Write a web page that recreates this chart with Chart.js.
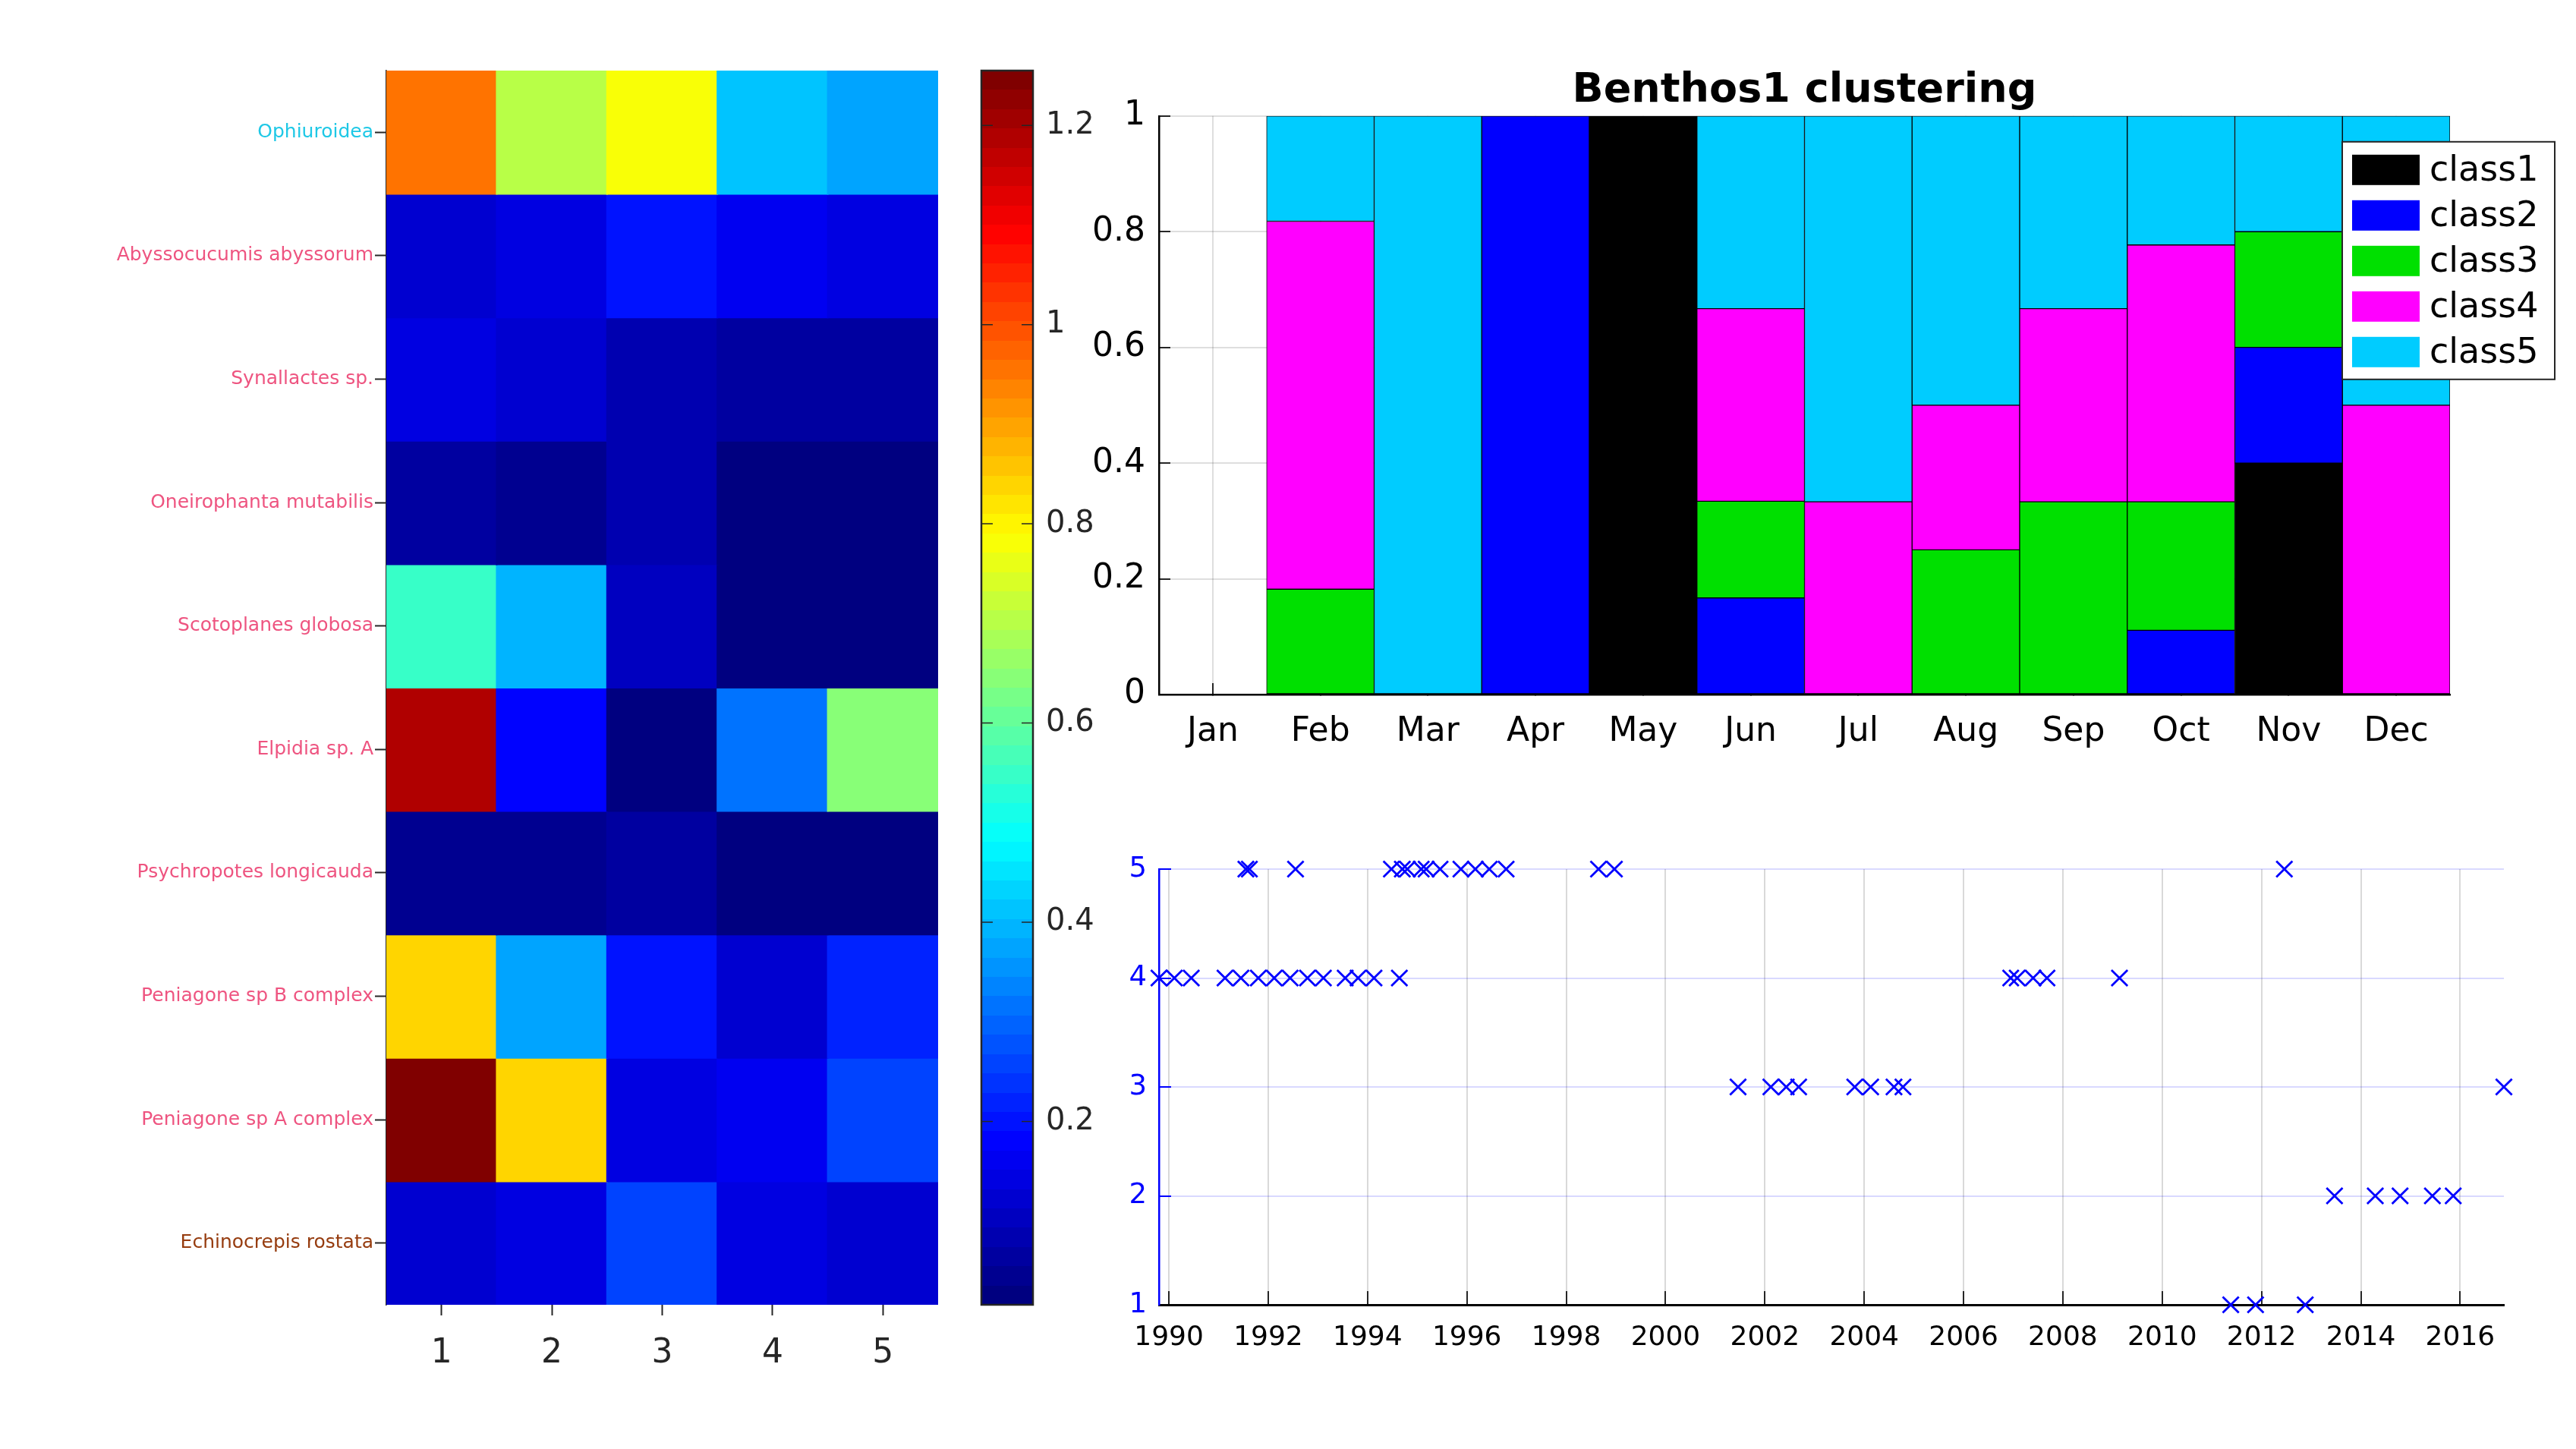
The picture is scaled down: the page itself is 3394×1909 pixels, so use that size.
<!DOCTYPE html>
<html>
<head>
<meta charset="utf-8">
<script src="https://cdn.jsdelivr.net/npm/chart.js@4/dist/chart.umd.min.js"></script>
<style>
  body { margin: 0; background: #fff; }
  #page { position: relative; width: 3394px; height: 1909px; background: #fff; overflow: hidden; }
  canvas { position: absolute; }
</style>
</head>
<body>
<div id="page">
  <canvas id="heat" width="1250" height="1860" style="left:0;top:0"></canvas>
  <canvas id="cbar" width="230" height="1860" style="left:1250px;top:0"></canvas>
  <canvas id="months" width="1994" height="1040" style="left:1400px;top:0"></canvas>
  <canvas id="series" width="1994" height="859" style="left:1400px;top:1050px"></canvas>
</div>
<script>
// heatmap: species x cluster
var species = ['Ophiuroidea', 'Abyssocucumis abyssorum', 'Synallactes sp.', 'Oneirophanta mutabilis',
  'Scotoplanes globosa', 'Elpidia sp. A', 'Psychropotes longicauda', 'Peniagone sp B complex',
  'Peniagone sp A complex', 'Echinocrepis rostata'];
var clusters = ['1', '2', '3', '4', '5'];
var heatValues = [
  [0.961, 0.700, 0.790, 0.411, 0.378],
  [0.114, 0.133, 0.205, 0.152, 0.140],
  [0.133, 0.124, 0.084, 0.074, 0.069],
  [0.066, 0.054, 0.093, 0.026, 0.026],
  [0.558, 0.392, 0.103, 0.020, 0.031],
  [1.191, 0.171, 0.016, 0.310, 0.654],
  [0.036, 0.036, 0.074, 0.018, 0.026],
  [0.839, 0.365, 0.207, 0.124, 0.219],
  [1.255, 0.839, 0.140, 0.161, 0.258],
  [0.124, 0.140, 0.264, 0.140, 0.132]
];
var labelColors = ['rgb(30,200,230)', 'rgb(238,84,128)', 'rgb(238,84,128)', 'rgb(238,84,128)',
  'rgb(238,84,128)', 'rgb(238,84,128)', 'rgb(238,84,128)', 'rgb(238,84,128)',
  'rgb(238,84,128)', 'rgb(150,60,15)'];
var cbTicks = [0.2, 0.4, 0.6, 0.8, 1, 1.2];

// monthly class proportions
var months = ['Jan', 'Feb', 'Mar', 'Apr', 'May', 'Jun', 'Jul', 'Aug', 'Sep', 'Oct', 'Nov', 'Dec'];
var class1 = [0, 0, 0, 0, 1, 0, 0, 0, 0, 0, 0.4, 0];
var class2 = [0, 0, 0, 1, 0, 0.167, 0, 0, 0, 0.111, 0.2, 0];
var class3 = [0, 0.182, 0, 0, 0, 0.167, 0, 0.25, 0.333, 0.222, 0.2, 0];
var class4 = [0, 0.636, 0, 0, 0, 0.333, 0.333, 0.25, 0.334, 0.444, 0, 0.5];
var class5 = [0, 0.182, 1, 0, 0, 0.333, 0.667, 0.5, 0.333, 0.223, 0.2, 0.5];
var classColors = ['#000000', '#0000ff', '#00e000', '#ff00ff', '#00ccff'];

// class of each sample through time
var sampleYear = [1989.80, 1990.11, 1990.45, 1991.13, 1991.45, 1991.55, 1991.62, 1991.80, 1992.12, 1992.44,
  1992.55, 1992.79, 1993.11, 1993.55, 1993.81, 1994.13, 1994.48, 1994.64, 1994.70, 1994.80,
  1995.08, 1995.18, 1995.46, 1995.88, 1996.17, 1996.45, 1996.79, 1998.65, 1998.97, 2001.46,
  2002.12, 2002.43, 2002.68, 2003.81, 2004.13, 2004.60, 2004.78, 2006.95, 2007.08, 2007.40,
  2007.68, 2009.14, 2011.38, 2011.88, 2012.46, 2012.88, 2013.47, 2014.29, 2014.79, 2015.44,
  2015.86, 2016.88];
var sampleClass = [4, 4, 4, 4, 4, 5, 5, 4, 4, 4,
  5, 4, 4, 4, 4, 4, 5, 4, 5, 5,
  5, 5, 5, 5, 5, 5, 5, 5, 5, 3,
  3, 3, 3, 3, 3, 3, 3, 4, 4, 4,
  4, 4, 1, 1, 5, 1, 2, 2, 2, 2,
  2, 3];
var yearTicks = [1990, 1992, 1994, 1996, 1998, 2000, 2002, 2004, 2006, 2008, 2010, 2012, 2014, 2016];
var classTicks = [1, 2, 3, 4, 5];

Chart.defaults.font.family = "'DejaVu Sans', sans-serif";
Chart.defaults.color = '#262626';
Chart.defaults.animation = false;
Chart.defaults.plugins.tooltip.enabled = false;

function jet(t) {
  t = Math.max(0, Math.min(1, t));
  var idx = Math.min(63, Math.floor(t * 64));
  var q = idx / 63;
  var f = function (x) { return Math.round(255 * Math.max(0, Math.min(1, 1.5 - Math.abs(x)))); };
  return 'rgb(' + f(4 * q - 3) + ',' + f(4 * q - 2) + ',' + f(4 * q - 1) + ')';
}
function shortNum(v) { return String(Math.round(v * 10) / 10); }

var allValues = [].concat.apply([], heatValues);
var vmin = Math.min.apply(null, allValues);
var vmax = Math.max.apply(null, allValues);

// heatmap
new Chart(document.getElementById('heat'), {
  type: 'bar',
  data: {
    labels: clusters,
    datasets: species.map(function (name, r) {
      return {
        label: name,
        data: heatValues[r].map(function () { return [r + 0.5, r + 1.5]; }),
        backgroundColor: heatValues[r].map(function (v) { return jet((v - vmin) / (vmax - vmin)); }),
        grouped: false,
        barPercentage: 1,
        categoryPercentage: 1,
        borderWidth: 0,
        inflateAmount: 1
      };
    })
  },
  options: {
    responsive: false,
    devicePixelRatio: 1,
    layout: { padding: { top: 93, right: 14, bottom: 41, left: 0 } },
    plugins: { legend: { display: false } },
    scales: {
      x: {
        grid: { offset: false, drawOnChartArea: false, tickLength: 14, tickColor: '#262626', tickWidth: 2 },
        border: { display: false },
        ticks: { font: { size: 44 }, padding: 24 },
        afterFit: function (s) { s.height = 100; }
      },
      y: {
        type: 'linear', reverse: true, min: 0.5, max: 10.5,
        afterBuildTicks: function (s) { s.ticks = species.map(function (n, i) { return { value: i + 1 }; }); },
        grid: { drawOnChartArea: false, tickLength: 15, tickColor: '#262626', tickWidth: 2 },
        border: { color: '#262626', width: 1.5 },
        ticks: {
          font: { size: 25 }, padding: 2,
          color: function (c) { return labelColors[c.index]; },
          callback: function (v) { return species[v - 1]; }
        },
        afterFit: function (s) { s.width = 509; }
      }
    }
  }
});

// colorbar
var colorbarFrame = {
  id: 'colorbarFrame',
  afterDatasetsDraw: function (chart) {
    var ctx = chart.ctx, a = chart.chartArea, y = chart.scales.y;
    ctx.save();
    ctx.strokeStyle = '#262626';
    ctx.lineWidth = 1.5;
    y.ticks.forEach(function (t) {
      var py = y.getPixelForValue(t.value);
      ctx.beginPath();
      ctx.moveTo(a.left, py); ctx.lineTo(a.left + 15, py);
      ctx.moveTo(a.right - 15, py); ctx.lineTo(a.right, py);
      ctx.stroke();
    });
    ctx.lineWidth = 2.5;
    ctx.strokeRect(a.left, a.top, a.right - a.left, a.bottom - a.top);
    ctx.restore();
  }
};
new Chart(document.getElementById('cbar'), {
  type: 'bar',
  data: {
    labels: [''],
    datasets: [{
      data: [[vmin, vmax]],
      barPercentage: 1,
      categoryPercentage: 1,
      borderWidth: 0,
      backgroundColor: function (c) {
        var chart = c.chart;
        if (!chart.chartArea) return '#000080';
        var y = chart.scales.y;
        var g = chart.ctx.createLinearGradient(0, y.getPixelForValue(vmin), 0, y.getPixelForValue(vmax));
        for (var i = 0; i < 64; i++) {
          var col = jet((i + 0.5) / 64);
          g.addColorStop(i / 64, col);
          g.addColorStop((i + 1) / 64, col);
        }
        return g;
      }
    }]
  },
  options: {
    responsive: false,
    devicePixelRatio: 1,
    layout: { padding: { top: 93, right: 0, bottom: 141, left: 43 } },
    plugins: { legend: { display: false } },
    scales: {
      x: { display: false },
      y: {
        position: 'right', min: vmin, max: vmax,
        afterBuildTicks: function (s) { s.ticks = cbTicks.map(function (v) { return { value: v }; }); },
        grid: { display: false },
        border: { display: false },
        ticks: { font: { size: 40 }, padding: 9, callback: shortNum },
        afterFit: function (s) { s.width = 119; }
      }
    }
  },
  plugins: [colorbarFrame]
});

// monthly stacked bars
var boxLegend = {
  id: 'boxLegend',
  afterDraw: function (chart) {
    var ctx = chart.ctx, a = chart.chartArea;
    var left = a.right - 142, top = a.top + 34, w = 280, h = 313;
    ctx.save();
    ctx.fillStyle = '#fff';
    ctx.fillRect(left, top, w, h);
    ctx.strokeStyle = '#262626';
    ctx.lineWidth = 2;
    ctx.strokeRect(left, top, w, h);
    ctx.font = '46px "DejaVu Sans"';
    ctx.textBaseline = 'middle';
    chart.data.datasets.forEach(function (ds, i) {
      var cy = top + 37 + i * 60;
      ctx.fillStyle = ds.backgroundColor;
      ctx.fillRect(left + 13, cy - 20, 89, 40);
      ctx.fillStyle = '#000';
      ctx.fillText(ds.label, left + 115, cy + 2);
    });
    ctx.restore();
  }
};
var classSeries = [class1, class2, class3, class4, class5];
new Chart(document.getElementById('months'), {
  type: 'bar',
  data: {
    labels: months,
    datasets: classSeries.map(function (vals, i) {
      return {
        label: 'class' + (i + 1),
        data: vals,
        backgroundColor: classColors[i],
        borderColor: '#000',
        borderWidth: 1,
        borderSkipped: false,
        barPercentage: 1,
        categoryPercentage: 1
      };
    })
  },
  options: {
    responsive: false,
    devicePixelRatio: 1,
    layout: { padding: { top: 0, right: 166, bottom: 35, left: 0 } },
    plugins: {
      legend: { display: false },
      title: {
        display: true, text: 'Benthos1 clustering', color: '#000', fullSize: false,
        font: { size: 54, weight: 'bold' }, padding: { top: 88, bottom: 0 }
      }
    },
    scales: {
      x: {
        stacked: true,
        grid: { offset: false, color: 'rgba(0,0,0,0.13)', lineWidth: 2, tickLength: -15, tickColor: '#262626', tickWidth: 2 },
        border: { color: '#000', width: 2.5 },
        ticks: { font: { size: 44 }, color: '#000', padding: 38 },
        afterFit: function (s) { s.height = 90; }
      },
      y: {
        stacked: true, min: 0, max: 1,
        ticks: { stepSize: 0.2, font: { size: 44 }, color: '#000', padding: 33, callback: shortNum },
        grid: { color: 'rgba(0,0,0,0.13)', lineWidth: 2, tickLength: -15, tickColor: '#262626', tickWidth: 2 },
        border: { color: '#000', width: 2.5 },
        afterFit: function (s) { s.width = 127; }
      }
    }
  },
  plugins: [boxLegend]
});

// class through time
new Chart(document.getElementById('series'), {
  type: 'scatter',
  data: {
    datasets: [{
      data: sampleYear.map(function (yr, i) { return { x: yr, y: sampleClass[i] }; }),
      pointStyle: 'crossRot',
      pointRadius: 15,
      borderColor: '#0000ff',
      borderWidth: 2.8,
      clip: false
    }]
  },
  options: {
    responsive: false,
    devicePixelRatio: 1,
    layout: { padding: { top: 95, right: 95, bottom: 110, left: 0 } },
    plugins: { legend: { display: false } },
    scales: {
      x: {
        type: 'linear',
        min: Math.min.apply(null, sampleYear),
        max: Math.max.apply(null, sampleYear),
        afterBuildTicks: function (s) { s.ticks = yearTicks.map(function (v) { return { value: v }; }); },
        grid: { color: 'rgba(0,0,0,0.15)', lineWidth: 2, tickLength: -18, tickColor: '#262626', tickWidth: 2 },
        border: { color: '#000', width: 3 },
        ticks: { font: { size: 36 }, color: '#000', padding: 40, callback: function (v) { return String(v); } },
        afterFit: function (s) { s.height = 80; }
      },
      y: {
        min: 1, max: 5,
        afterBuildTicks: function (s) { s.ticks = classTicks.map(function (v) { return { value: v }; }); },
        grid: { color: 'rgba(0,0,255,0.15)', lineWidth: 2, tickLength: -16, tickColor: '#0000ff', tickWidth: 2 },
        border: { color: '#0000ff', width: 2.5 },
        ticks: { font: { size: 37 }, color: '#0000ff', padding: 32 },
        afterFit: function (s) { s.width = 127; }
      }
    }
  }
});
</script>
</body>
</html>
